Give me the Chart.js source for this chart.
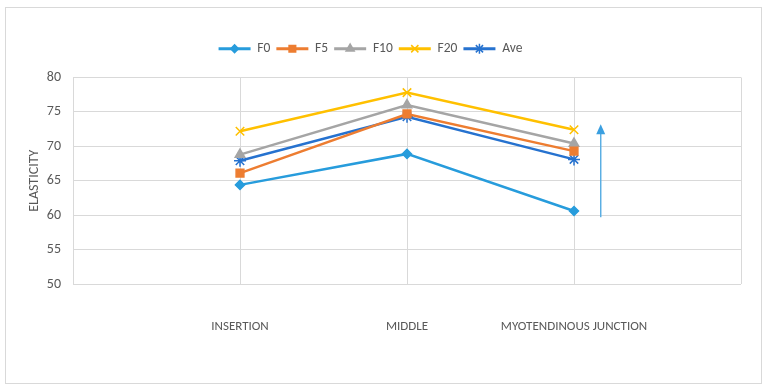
<!DOCTYPE html>
<html>
<head>
<meta charset="utf-8">
<script src="https://cdn.jsdelivr.net/npm/chart.js@4/dist/chart.umd.min.js"></script>
<style>
html,body{margin:0;padding:0;background:#fff;}
#wrap{width:768px;height:392px;position:relative;}
</style>
</head>
<body>
<div id="wrap"><canvas id="c" width="768" height="392"></canvas></div>
<script>
const categories = ['', 'INSERTION', 'MIDDLE', 'MYOTENDINOUS JUNCTION', ''];
const F0  = [null, 64.4, 68.9, 60.6, null];
const F5  = [null, 66.1, 74.7, 69.3, null];
const F10 = [null, 68.8, 76.0, 70.4, null];
const F20 = [null, 72.2, 77.8, 72.4, null];
const Ave = [null, 67.9, 74.3, 68.1, null];
const yTicks = [50, 55, 60, 65, 70, 75, 80];
const arrowX = 3.16;
const arrowY = [59.7, 73.2];

const FONT = 'Carlito, Lato, "Liberation Sans", sans-serif';
const TXT = '#595959';

const series = [
  {label:'F0',  data:F0,  color:'#279CDC', style:'rectRot', r:4.5},
  {label:'F5',  data:F5,  color:'#ED7D31', style:'rect', r:5.5},
  {label:'F10', data:F10, color:'#A5A5A5', style:'triangle', r:5.5},
  {label:'F20', data:F20, color:'#FFC000', style:'crossRot', r:6},
  {label:'Ave', data:Ave, color:'#2672CF', style:'star', r:6}
];

const framePlugin = {
  id:'frame',
  beforeDraw(chart){
    const ctx = chart.ctx;
    ctx.save();
    ctx.fillStyle = '#fff';
    ctx.fillRect(0,0,chart.width,chart.height);
    ctx.strokeStyle = '#D9D9D9';
    ctx.lineWidth = 1;
    ctx.strokeRect(5.5, 7.5, 756, 376);
    ctx.restore();
  }
};

const legendGap = {
  id:'legendGap',
  beforeUpdate(chart){
    const lg = chart.legend;
    if(lg && !lg._gapPatched){
      const orig = lg.fit;
      lg.fit = function(){ orig.apply(this, arguments); this.height += 12; };
      lg._gapPatched = true;
    }
  }
};

const arrowPlugin = {
  id:'arrow',
  afterDatasetsDraw(chart){
    const xs = chart.scales.x, ys = chart.scales.y;
    const x = xs.getPixelForValue(arrowX);
    const y0 = ys.getPixelForValue(arrowY[0]);
    const y1 = ys.getPixelForValue(arrowY[1]);
    const ctx = chart.ctx;
    ctx.save();
    ctx.strokeStyle = '#5AAEE3';
    ctx.fillStyle = '#3A9FE0';
    ctx.lineWidth = 1.5;
    ctx.beginPath();
    ctx.moveTo(x, y0);
    ctx.lineTo(x, y1 + 8);
    ctx.stroke();
    ctx.beginPath();
    ctx.moveTo(x, y1);
    ctx.lineTo(x - 4.5, y1 + 10);
    ctx.lineTo(x + 4.5, y1 + 10);
    ctx.closePath();
    ctx.fill();
    ctx.restore();
  }
};

const legendMarkers = {
  id:'legendMarkers',
  afterDraw(chart){
    const lg = chart.legend;
    if(!lg || !lg.legendHitBoxes) return;
    const ctx = chart.ctx;
    lg.legendHitBoxes.forEach((b,i)=>{
      const s = series[i];
      const cx = b.left + 16;
      const cy = b.top + b.height/2;
      ctx.save();
      ctx.fillStyle = s.color;
      ctx.strokeStyle = s.color;
      ctx.lineWidth = 1.5;
      Chart.helpers.drawPoint(ctx, {pointStyle:s.style, radius:s.r*0.85, borderWidth:1.5, rotation:0}, cx, cy);
      ctx.restore();
    });
  }
};

new Chart(document.getElementById('c'), {
  type:'line',
  data:{
    labels:categories,
    datasets: series.map(s=>({
      label:s.label,
      data:s.data,
      borderColor:s.color,
      backgroundColor:s.color,
      borderWidth:2.5,
      pointStyle:s.style,
      pointRadius:s.r,
      pointBorderWidth:1.5,
      pointBackgroundColor:s.color,
      pointBorderColor:s.color,
      tension:0,
      spanGaps:false
    }))
  },
  options:{
    responsive:false,
    animation:false,
    layout:{padding:{top:36, right:27, left:0, bottom:0}},
    plugins:{
      tooltip:{enabled:false},
      legend:{
        position:'top',
        labels:{
          font:{family:FONT, size:13.5},
          color:TXT,
          boxWidth:32,
          boxHeight:3,
          padding:6,
          generateLabels(chart){
            return series.map((s,i)=>({
              text:s.label,
              fillStyle:s.color,
              strokeStyle:s.color,
              lineWidth:0,
              hidden:false,
              datasetIndex:i,
              fontColor:TXT
            }));
          }
        }
      }
    },
    scales:{
      x:{
        grid:{color:'#D9D9D9', drawTicks:false, lineWidth:1},
        border:{display:false},
        ticks:{font:{family:FONT, size:13}, color:TXT, padding:35, maxRotation:0, autoSkip:false},
        afterFit(scale){ scale.height = 108; scale.paddingRight = 0; scale.paddingLeft = 0; }
      },
      y:{
        min:50, max:80,
        afterBuildTicks(scale){ scale.ticks = yTicks.map(v=>({value:v})); },
        grid:{color:'#D9D9D9', drawTicks:false, lineWidth:1},
        border:{display:false},
        ticks:{font:{family:FONT, size:14}, color:TXT, padding:12},
        title:{display:true, text:'ELASTICITY', font:{family:FONT, size:14}, color:TXT, padding:{top:26, bottom:0}},
        afterFit(scale){ scale.width = 73; }
      }
    }
  },
  plugins:[framePlugin, legendGap, arrowPlugin, legendMarkers]
});
</script>
</body>
</html>
